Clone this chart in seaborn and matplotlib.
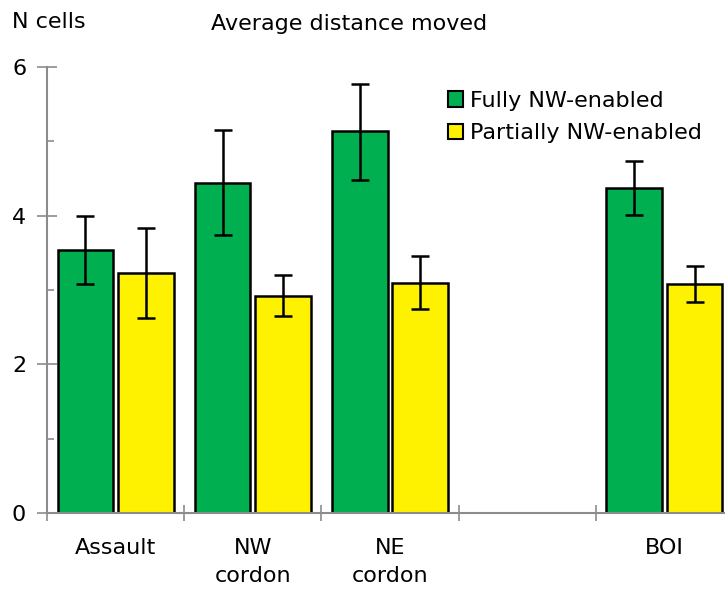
import numpy as np
import pandas as pd
import matplotlib
matplotlib.use("Agg")
import matplotlib.pyplot as plt
import seaborn as sns
from matplotlib.patches import Patch
from matplotlib.ticker import FixedLocator, MultipleLocator

# ---- data ----
categories = ["Assault", "NW\ncordon", "NE\ncordon", " ", "BOI"]
data_categories = ["Assault", "NW\ncordon", "NE\ncordon", "BOI"]
series = ["Fully NW-enabled", "Partially NW-enabled"]
fully = [3.54, 4.44, 5.14, 4.37]
fully_low = [3.08, 3.74, 4.48, 4.01]
fully_high = [4.00, 5.15, 5.77, 4.74]
partial = [3.23, 2.92, 3.10, 3.08]
partial_low = [2.63, 2.65, 2.74, 2.84]
partial_high = [3.83, 3.20, 3.46, 3.32]
y_ticks = [0, 2, 4, 6]

colors = {"Fully NW-enabled": "#00B050", "Partially NW-enabled": "#FFF200"}

df = pd.DataFrame({
    "cat": data_categories * 2,
    "series": [series[0]] * 4 + [series[1]] * 4,
    "value": fully + partial,
    "low": fully_low + partial_low,
    "high": fully_high + partial_high,
})

sns.set_theme(style="white")
plt.rcParams["font.family"] = ["DejaVu Sans"]
plt.rcParams["text.color"] = "black"

FS = 16

fig = plt.figure(figsize=(7.25, 5.89), dpi=100)
ax = fig.add_axes([47 / 725, 76 / 589, 686 / 725, 446 / 589])

sns.barplot(data=df, x="cat", y="value", hue="series", order=categories,
            hue_order=series, palette=colors, saturation=1, errorbar=None,
            width=0.88, gap=0.08, edgecolor="black", linewidth=1.8, legend=False, ax=ax)

# error bars at bar centers
for cont, s in zip(ax.containers, series):
    sub = df[df["series"] == s].reset_index(drop=True)
    for p in cont.patches:
        h = p.get_height()
        idx = int(np.argmin(np.abs(sub["value"].values - h)))
        row = sub.iloc[idx]
        xc = p.get_x() + p.get_width() / 2
        ax.errorbar([xc], [row["value"]],
                    yerr=[[row["value"] - row["low"]], [row["high"] - row["value"]]],
                    fmt="none", ecolor="black", elinewidth=1.8, capsize=6.5, capthick=1.8,
                    zorder=5)

ax.set_xlim(-0.5, 4.5)
ax.set_ylim(0, 6)
ax.set_xlabel("")
ax.set_ylabel("")

# x: ticks at category boundaries, labels at centres
ax.xaxis.set_major_locator(FixedLocator(np.arange(-0.5, 5.0, 1.0)))
ax.xaxis.set_minor_locator(FixedLocator(np.arange(0, 5)))
ax.set_xticklabels([""] * 6)
ax.set_xticklabels(categories, minor=True, linespacing=1.5)
ax.tick_params(axis="x", which="major", direction="inout", length=12, width=1.2,
               colors="#8c8c8c", bottom=True)
ax.tick_params(axis="x", which="minor", length=0, pad=18, labelsize=FS,
               labelcolor="black", bottom=True)

# y ticks
ax.set_yticks(y_ticks)
ax.yaxis.set_minor_locator(MultipleLocator(1))
ax.tick_params(axis="y", which="major", direction="inout", length=14, width=1.2,
               colors="#8c8c8c", labelcolor="black", labelsize=FS, pad=8, left=True)
ax.tick_params(axis="y", which="minor", direction="in", length=5, width=1.2,
               colors="#8c8c8c", left=True)

for side in ["top", "right"]:
    ax.spines[side].set_visible(False)
for side in ["left", "bottom"]:
    ax.spines[side].set_color("#8c8c8c")
    ax.spines[side].set_linewidth(1.5)

handles = [Patch(facecolor=colors[s], edgecolor="black", linewidth=1.5, label=s) for s in series]
fig.legend(handles=handles, loc="upper left", bbox_to_anchor=(439 / 725, 1 - 82 / 589),
           frameon=False, fontsize=FS, handlelength=0.7, handleheight=0.7,
           handletextpad=0.3, labelspacing=0.55, borderaxespad=0, labelcolor="black")

fig.text(12 / 725, 1 - 22 / 589, "N cells", fontsize=FS, va="center", ha="left")
fig.text(349 / 725, 1 - 24 / 589, "Average distance moved", fontsize=FS,
         va="center", ha="center")

fig.savefig("out.png", dpi=100)
